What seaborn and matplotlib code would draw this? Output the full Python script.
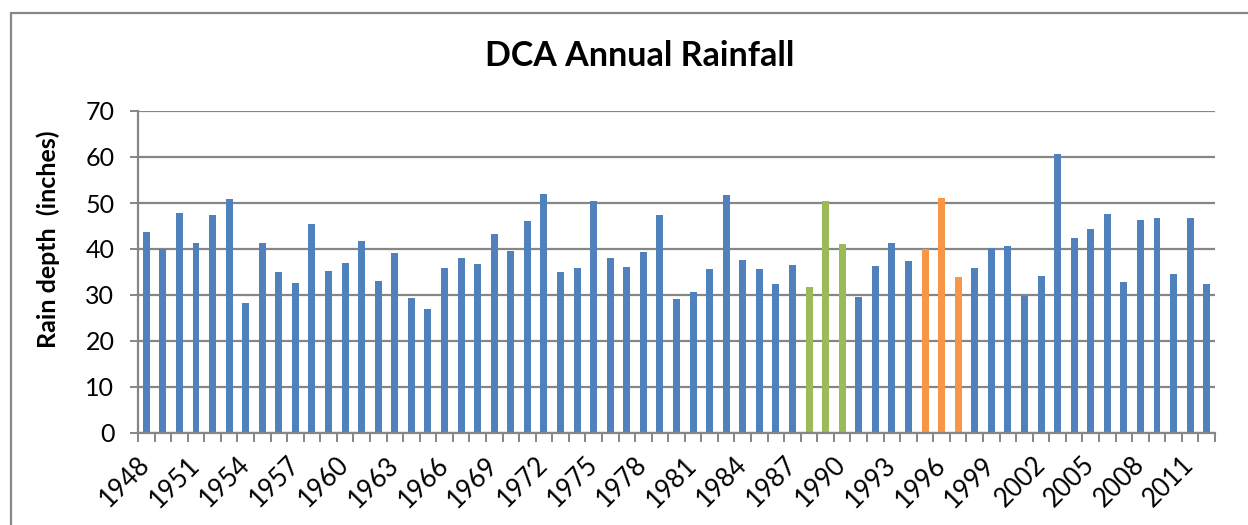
import matplotlib
matplotlib.use("Agg")
import matplotlib.pyplot as plt
from matplotlib.patches import Rectangle
import seaborn as sns
import pandas as pd

# Annual rainfall at DCA, 1948-2012 (inches)
years = list(range(1948, 2013))
rainfall = [
    43.6, 40.0, 47.8, 41.2, 47.3, 50.9, 28.2, 41.4, 35.1, 32.7,
    45.5, 35.3, 36.9, 41.8, 33.0, 39.2, 29.4, 26.9, 35.9, 38.1,
    36.7, 43.2, 39.5, 46.0, 51.9, 34.9, 35.9, 50.4, 38.0, 36.0,
    39.4, 47.3, 29.2, 30.6, 35.7, 51.8, 37.6, 35.7, 32.5, 36.5,
    31.8, 50.5, 41.0, 29.5, 36.3, 41.3, 37.5, 39.9, 51.1, 33.9,
    35.8, 40.2, 40.6, 29.8, 34.2, 60.6, 42.3, 44.3, 47.6, 32.8,
    46.4, 46.8, 34.6, 46.8, 32.3,
]
green_years = [1988, 1989, 1990]
orange_years = [1995, 1996, 1997]
palette = {"base": "#4F81BD", "green": "#9BBB59", "orange": "#F79646"}
y_ticks = [0, 10, 20, 30, 40, 50, 60, 70]

groups = ["green" if y in green_years else "orange" if y in orange_years else "base"
          for y in years]
df = pd.DataFrame({"year": [str(y) for y in years], "rain": rainfall, "group": groups})

sns.set_theme(style="white")
plt.rcParams["font.family"] = ["Lato", "DejaVu Sans"]

grid_col = "#868686"
W, H = 1248, 525
fig = plt.figure(figsize=(W / 100, H / 100), dpi=100)
ax = fig.add_axes([138 / W, 1 - 433 / H, (1215 - 138) / W, (433 - 111) / H])

sns.barplot(data=df, x="year", y="rain", hue="group", palette=palette,
            dodge=False, width=0.42, legend=False, saturation=1,
            linewidth=0, ax=ax)

ax.set_xlim(-0.5, len(years) - 0.5)
ax.set_ylim(0, 70)
ax.set_yticks(y_ticks)
ax.set_yticklabels([str(t) for t in y_ticks])
ax.yaxis.grid(True, color=grid_col, lw=1.6, linestyle="-")
ax.set_axisbelow(True)

label_pos = list(range(0, len(years), 3))
ax.set_xticks(label_pos)
ax.set_xticklabels([str(years[i]) for i in label_pos], rotation=45, ha="right",
                   va="center", rotation_mode="anchor", fontsize=18.5, color="black")
ax.set_xticks([i - 0.5 for i in range(len(years) + 1)], minor=True)
ax.tick_params(axis="x", which="major", length=0, pad=20)
ax.tick_params(axis="x", which="minor", length=6.5, width=1.4, color=grid_col,
               direction="out", bottom=True)
ax.tick_params(axis="y", length=6, width=1.4, color=grid_col, direction="out",
               left=True, pad=11, labelsize=18, labelcolor="black")

for side in ["top", "right"]:
    ax.spines[side].set_visible(False)
for side in ["left", "bottom"]:
    ax.spines[side].set_color(grid_col)
    ax.spines[side].set_linewidth(1.6)
ax.set_xlabel("")
ax.set_ylabel("")

fig.text(640 / W, 1 - 56 / H, "DCA Annual Rainfall", ha="center", va="center",
         fontsize=24.5, fontweight="bold", color="black")
fig.text(48 / W, 1 - 239 / H, "Rain depth  (inches)", ha="center", va="center",
         rotation=90, fontsize=18, fontweight="bold", color="black")

fig.patches.append(Rectangle((11 / W, -0.1), 2, 1 - 12.5 / H + 0.1,
                             transform=fig.transFigure, fill=False,
                             edgecolor=grid_col, linewidth=1.6))

fig.savefig("out.png", dpi=100, facecolor="white")
